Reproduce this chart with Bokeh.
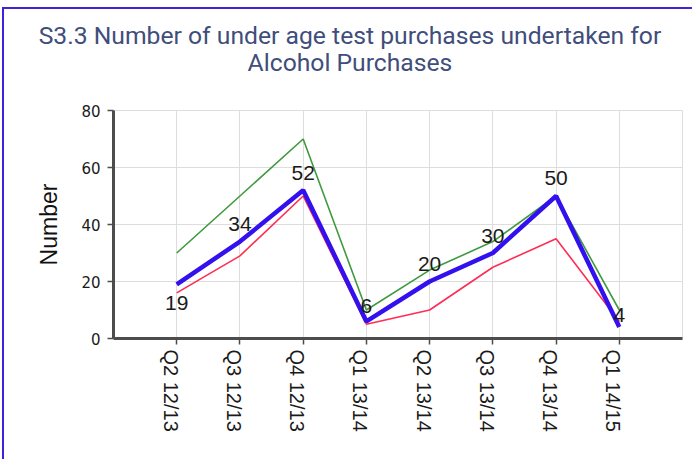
import math
from bokeh.plotting import figure
from bokeh.layouts import column
from bokeh.models import (Range1d, FixedTicker, LinearAxis, ColumnDataSource, Div)
from bokeh.core.properties import value
from bokeh.embed import file_html
from bokeh.resources import INLINE

# ---- data ----
categories = ["Q2 12/13", "Q3 12/13", "Q4 12/13", "Q1 13/14",
              "Q2 13/14", "Q3 13/14", "Q4 13/14", "Q1 14/15"]
series_blue = [19, 34, 52, 6, 20, 30, 50, 4]
series_green = [30, 50, 70, 10, 24, 34, 50, 10]
series_red = [16, 29, 50, 5, 10, 25, 35, 6]
y_ticks = [0, 20, 40, 60, 80]
title_lines = ["S3.3 Number of under age test purchases undertaken for",
               "Alcohol Purchases"]
y_label = "Number"

# label vertical offsets in pixels (style, screen units)
label_offsets = [19, -18, -17, -15, -18, -17, -18, -12]

xs = [i + 1 for i in range(len(categories))]
n_span = len(categories) + 1

W = 688
TH = 93            # title band height
H = 357            # chart height
ML, MR, MT, MB = 109, 10, 8, 121
frame_w = W - ML - MR

# ---- title band ----
title_html = (
    '<div style="position:relative; left:2px; width:%dpx; height:%dpx; '
    'box-sizing:border-box; padding-top:13px; text-align:center; '
    'font-family:Roboto; font-size:24.7px; line-height:27px; color:#3f4e7a; '
    'white-space:nowrap;">%s</div>' % (W, TH, "<br>".join(title_lines))
)
tdiv = Div(text=title_html, width=W, height=TH, margin=(0, 0, 0, 0))

# ---- chart ----
p = figure(width=W, height=H, output_backend="svg", toolbar_location=None,
           x_range=Range1d(0, n_span), y_range=Range1d(0, 80),
           min_border_left=ML, min_border_right=MR, min_border_top=MT,
           min_border_bottom=MB)
p.background_fill_color = "white"
p.border_fill_color = "white"
p.outline_line_color = "#dddddd"

# main x axis: line + tick marks (as minor ticks, no labels)
xa = p.xaxis[0]
xa.ticker = FixedTicker(ticks=[], minor_ticks=xs)
xa.axis_line_color = "#4d4d4d"
xa.axis_line_width = 3
xa.major_tick_out = 6
xa.major_tick_in = 0
xa.minor_tick_out = 6
xa.minor_tick_in = 0
xa.minor_tick_line_color = "#4d4d4d"
xa.minor_tick_line_width = 1.5

# label axis, shifted a few pixels left like the original
dx = 6 * n_span / frame_w
p.extra_x_ranges = {"lab": Range1d(dx, n_span + dx)}
la = LinearAxis(x_range_name="lab", ticker=FixedTicker(ticks=xs))
la.major_label_overrides = {x: c for x, c in zip(xs, categories)}
la.major_label_orientation = -math.pi / 2
la.axis_line_color = None
la.major_tick_line_color = None
la.major_tick_out = 0
la.major_tick_in = 0
la.minor_tick_line_color = None
la.minor_tick_out = 0
la.minor_tick_in = 0
la.major_label_text_font = "Liberation Sans"
la.major_label_text_font_size = "20px"
la.major_label_text_color = "#1a1a1a"
la.major_label_standoff = 5
p.add_layout(la, "below")

ya = p.yaxis[0]
ya.ticker = FixedTicker(ticks=y_ticks)
ya.axis_line_color = "#4d4d4d"
ya.axis_line_width = 3
ya.major_tick_out = 6
ya.major_tick_in = 0
ya.major_tick_line_color = "#4d4d4d"
ya.major_tick_line_width = 1.5
ya.minor_tick_out = 0
ya.minor_tick_in = 0
ya.major_label_text_color = "#1a1a1a"
ya.major_label_text_font = "DejaVu Sans"
ya.major_label_text_font_size = "15px"
ya.major_label_standoff = 7
ya.axis_label = y_label
ya.axis_label_text_font = "Liberation Sans"
ya.axis_label_text_font_size = "23px"
ya.axis_label_text_font_style = "normal"
ya.axis_label_text_color = "#111111"
ya.axis_label_standoff = 16

p.xgrid.ticker = FixedTicker(ticks=xs)
p.ygrid.ticker = FixedTicker(ticks=y_ticks)
p.xgrid.grid_line_color = "#dddddd"
p.ygrid.grid_line_color = "#dddddd"

# lines
p.line(xs, series_red, line_color="#ff2c55", line_width=1.6)
p.line(xs, series_green, line_color="#3f9a3f", line_width=1.6)
p.line(xs, series_blue, line_color="#3311ee", line_width=4.5)

src = ColumnDataSource(dict(x=xs, y=series_blue, t=[str(v) for v in series_blue],
                            yo=label_offsets))
p.text(x="x", y="y", text="t", y_offset="yo", source=src,
       text_font=value("Liberation Sans"), text_font_size="21px",
       text_color="#1a1a1a", text_align="center", text_baseline="middle")

layout = column(tdiv, p)
layout.styles = {"margin-left": "2px", "margin-top": "7px",
                 "border-left": "2px solid #3d22d8", "border-top": "2px solid #3d22d8"}

open("out.html", "w").write(file_html(layout, INLINE))
